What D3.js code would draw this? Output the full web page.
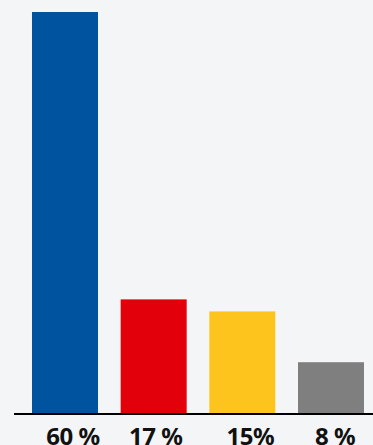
<!DOCTYPE html>
<html><head><meta charset="utf-8">
<script src="https://cdn.jsdelivr.net/npm/d3@7/dist/d3.min.js"></script>
<style>html,body{margin:0;padding:0;background:#f4f5f7;}svg{display:block;}</style>
</head><body>
<script>
const categories = ["A", "B", "C", "D"];
const values = [60, 17, 15.2, 7.6];
const labels = ["60 %", "17 %", "15%", "8 %"];
const colors = ["#00539f", "#e2000b", "#fec41e", "#7f7f7f"];

const W = 373, H = 445;
const svg = d3.select("body").append("svg").attr("width", W).attr("height", H);
svg.append("rect").attr("width", W).attr("height", H).attr("fill", "#f4f5f7");

const x = d3.scaleBand().domain(categories).range([20.67, 375.33]).paddingInner(0.2556).paddingOuter(0.1278);
const y = d3.scaleLinear().domain([0, 60]).range([413, 12]);

svg.selectAll("rect.bar").data(values).enter().append("rect")
  .attr("class", "bar")
  .attr("x", (d, i) => x(categories[i]))
  .attr("width", x.bandwidth())
  .attr("y", d => y(d))
  .attr("height", d => y(0) - y(d))
  .attr("fill", (d, i) => colors[i]);

svg.append("line").attr("x1", 14).attr("x2", W).attr("y1", 414).attr("y2", 414)
  .attr("stroke", "#000").attr("stroke-width", 2);

const dx = [8, 2, 8, 4];
svg.selectAll("text.lab").data(labels).enter().append("text")
  .attr("class", "lab")
  .attr("x", (d, i) => x(categories[i]) + x.bandwidth() / 2 + dx[i])
  .attr("y", 445)
  .attr("text-anchor", "middle")
  .attr("font-family", "'Noto Sans', sans-serif")
  .attr("font-weight", "bold")
  .attr("font-size", 24)
  .attr("letter-spacing", -0.5)
  .attr("fill", "#111")
  .text(d => d);
</script>
</body></html>
